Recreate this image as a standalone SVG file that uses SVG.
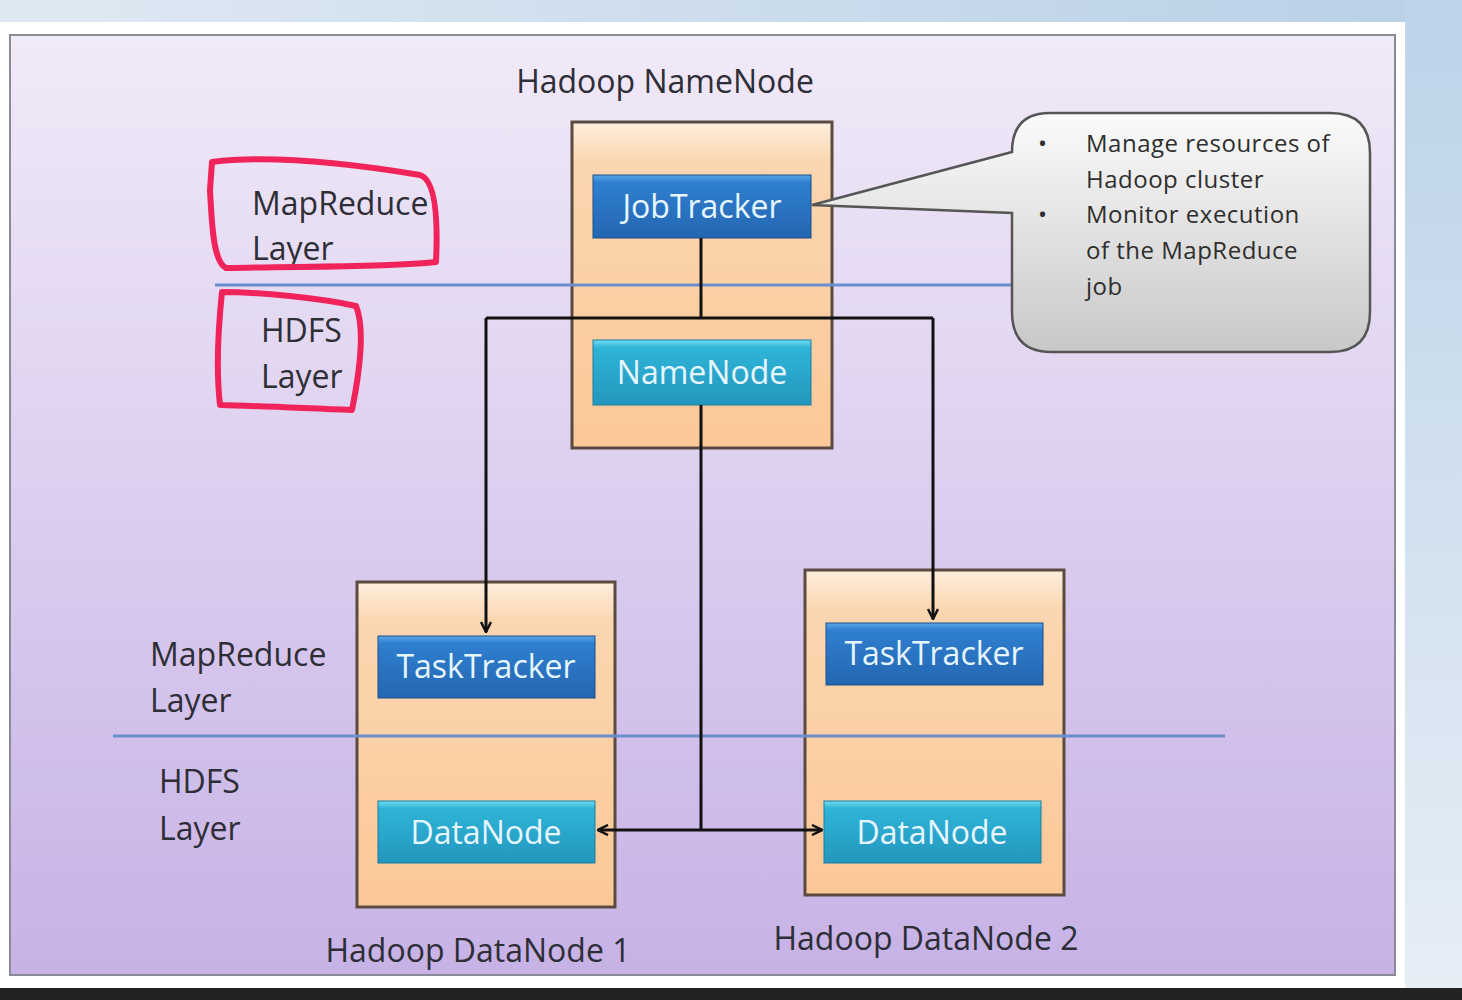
<svg xmlns="http://www.w3.org/2000/svg" width="1462" height="1000" viewBox="0 0 1462 1000">
<defs>
<linearGradient id="bgTop" x1="0" y1="0" x2="1" y2="0"><stop offset="0" stop-color="#dfe9f3"/><stop offset="1" stop-color="#b9d0e6"/></linearGradient>
<linearGradient id="bgRight" x1="0" y1="0" x2="0" y2="1"><stop offset="0" stop-color="#bcd3e8"/><stop offset="1" stop-color="#e6eef6"/></linearGradient>
<linearGradient id="panel" x1="0" y1="0" x2="0" y2="1"><stop offset="0" stop-color="#f1eaf8"/><stop offset="1" stop-color="#c7b2e6"/></linearGradient>
<linearGradient id="orange" x1="0" y1="0" x2="0" y2="1"><stop offset="0" stop-color="#fdeedd"/><stop offset="0.12" stop-color="#fbd6b0"/><stop offset="1" stop-color="#fbc898"/></linearGradient>
<linearGradient id="blue" x1="0" y1="0" x2="0" y2="1"><stop offset="0" stop-color="#5aa6e8"/><stop offset="0.12" stop-color="#2f7fd0"/><stop offset="1" stop-color="#2466b0"/></linearGradient>
<linearGradient id="teal" x1="0" y1="0" x2="0" y2="1"><stop offset="0" stop-color="#6fdcf2"/><stop offset="0.12" stop-color="#2fb4d8"/><stop offset="1" stop-color="#2496bd"/></linearGradient>
<linearGradient id="gray" x1="0" y1="0" x2="0" y2="1"><stop offset="0" stop-color="#fbfbfb"/><stop offset="1" stop-color="#c8c8c8"/></linearGradient>
<marker id="arr" viewBox="0 0 12 12" refX="11" refY="6" markerWidth="12" markerHeight="12" markerUnits="userSpaceOnUse" orient="auto"><path d="M1,1 L11,6 L1,11" fill="none" stroke="#111" stroke-width="2.5"/></marker>
<style>
.lbl{font-family:"Open Sans","Liberation Sans",sans-serif;font-size:32px;fill:#2e2e36}
.btn{font-family:"Open Sans","Liberation Sans",sans-serif;font-size:32px;fill:#e6f6ff;text-anchor:middle}
.call{font-family:"Open Sans","Liberation Sans",sans-serif;font-size:24px;fill:#2e2e2e;letter-spacing:0.5px}
.box{fill:url(#orange);stroke:#5a4a40;stroke-width:3}
.layer{stroke:#6a8ed0;stroke-width:3}
.conn{fill:none;stroke:#111;stroke-width:3}
.red{fill:none;stroke:#f0245a;stroke-width:6;stroke-linejoin:round;stroke-linecap:round}
</style>
</defs>
<rect x="0" y="0" width="1462" height="1000" fill="#ffffff"/>
<rect x="0" y="0" width="1462" height="22" fill="url(#bgTop)"/>
<rect x="1405" y="0" width="57" height="990" fill="url(#bgRight)"/>
<rect x="0" y="988" width="1462" height="12" fill="#222"/>
<rect x="10" y="35" width="1385" height="940" fill="url(#panel)" stroke="#8a8a96" stroke-width="2"/>

<g id="namenode-host">
<rect class="box" x="572" y="122" width="260" height="326"/>
<text class="lbl" x="665" y="93" text-anchor="middle">Hadoop NameNode</text>
</g>
<g id="datanode-host-1">
<rect class="box" x="357" y="582" width="258" height="325"/>
<text class="lbl" x="478" y="962" text-anchor="middle">Hadoop DataNode 1</text>
</g>
<g id="datanode-host-2">
<rect class="box" x="805" y="570" width="259" height="325"/>
<text class="lbl" x="926" y="950" text-anchor="middle">Hadoop DataNode 2</text>
</g>

<line class="layer" x1="215" y1="285" x2="1015" y2="285"/>
<line class="layer" x1="113" y1="736" x2="1225" y2="736"/>

<g id="jobtracker">
<rect x="593" y="175" width="218" height="63" fill="url(#blue)" stroke="#1d4f8a" stroke-width="1"/>
<text class="btn" x="702" y="218">JobTracker</text>
</g>
<g id="namenode">
<rect x="593" y="340" width="218" height="65" fill="url(#teal)" stroke="#1b7f9e" stroke-width="1"/>
<text class="btn" x="702" y="384">NameNode</text>
</g>
<g id="tasktracker-1">
<rect x="378" y="636" width="217" height="62" fill="url(#blue)" stroke="#1d4f8a" stroke-width="1"/>
<text class="btn" x="486" y="678">TaskTracker</text>
</g>
<g id="datanode-1">
<rect x="378" y="801" width="217" height="62" fill="url(#teal)" stroke="#1b7f9e" stroke-width="1"/>
<text class="btn" x="486" y="844">DataNode</text>
</g>
<g id="tasktracker-2">
<rect x="826" y="623" width="217" height="62" fill="url(#blue)" stroke="#1d4f8a" stroke-width="1"/>
<text class="btn" x="934" y="665">TaskTracker</text>
</g>
<g id="datanode-2">
<rect x="824" y="801" width="217" height="62" fill="url(#teal)" stroke="#1b7f9e" stroke-width="1"/>
<text class="btn" x="932" y="844">DataNode</text>
</g>

<g id="callout">
<path d="M1050,113 L1330,113 Q1370,113 1370,153 L1370,312 Q1370,352 1330,352 L1052,352 Q1012,352 1012,312 L1012,213 L812,205 L1012,152 Q1012,113 1050,113 Z" fill="url(#gray)" stroke="#555" stroke-width="2.5"/>
<text class="call" x="1038" y="152">•</text>
<text class="call" x="1086" y="152">Manage resources of</text>
<text class="call" x="1086" y="188">Hadoop cluster</text>
<text class="call" x="1038" y="223">•</text>
<text class="call" x="1086" y="223">Monitor execution</text>
<text class="call" x="1086" y="259">of the MapReduce</text>
<text class="call" x="1086" y="295">job</text>
</g>

<g id="layer-labels">
<text class="lbl" x="252" y="215">MapReduce</text>
<text class="lbl" x="252" y="260">Layer</text>
<text class="lbl" x="261" y="342">HDFS</text>
<text class="lbl" x="261" y="388">Layer</text>
<text class="lbl" x="150" y="666">MapReduce</text>
<text class="lbl" x="150" y="712">Layer</text>
<text class="lbl" x="159" y="793">HDFS</text>
<text class="lbl" x="159" y="840">Layer</text>
</g>

<g id="annotations">
<path class="red" d="M212,162 C260,156 330,160 420,175 C436,180 438,220 436,262 C380,268 300,266 226,268 C214,262 212,230 210,190 Z"/>
<path class="red" d="M222,292 C260,292 320,298 356,306 C366,330 358,380 352,410 C300,408 260,406 220,405 C216,370 218,330 222,292 Z"/>
</g>

<g id="connectors">
<path class="conn" d="M701,238 V318"/>
<path class="conn" d="M486,318 H933"/>
<path class="conn" d="M486,318 V632" marker-end="url(#arr)"/>
<path class="conn" d="M933,318 V619" marker-end="url(#arr)"/>
<path class="conn" d="M701,405 V830"/>
<path class="conn" d="M701,830 H598" marker-end="url(#arr)"/>
<path class="conn" d="M701,830 H822" marker-end="url(#arr)"/>
</g>
</svg>
